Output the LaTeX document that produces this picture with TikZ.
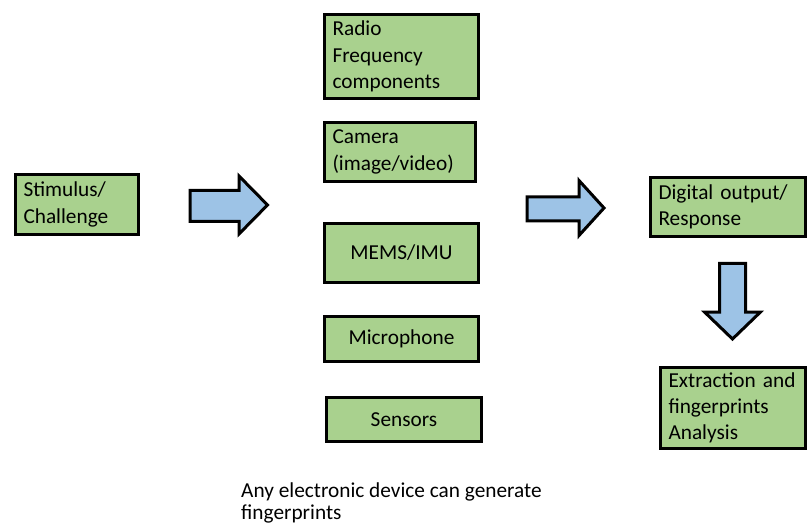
\documentclass[tikz,border=0pt]{standalone}
\usepackage{fontspec}
\setmainfont{Carlito}
\definecolor{boxgreen}{HTML}{A9D18E}
\definecolor{arrowblue}{HTML}{9DC3E6}
\begin{document}
\begin{tikzpicture}[x=1pt,y=-1pt,
  box/.style={draw=black, line width=3pt, fill=boxgreen, rectangle,
    inner xsep=8pt, inner ysep=2pt, font=\fontsize{21.3}{26.2}\selectfont},
  leftbox/.style={box, align=left},
  midbox/.style={box, align=center},
  blockarrow/.style={draw=black, line width=3pt, fill=arrowblue, line join=miter}]
\useasboundingbox (0,0) rectangle (807,524);

% stimulus on the left
\node[leftbox, minimum width=123pt, minimum height=60pt, text width=107pt] (stim) at (77,204.5) {Stimulus/\\Challenge};

% column of device components
\node[leftbox, minimum width=154pt, minimum height=84pt, text width=138pt] (radio) at (401.5,56.5) {Radio\\Frequency\\components};
\node[leftbox, minimum width=151pt, minimum height=59pt, text width=135pt] (camera) at (400,152) {Camera\\(image/video)};
\node[midbox, minimum width=154pt, minimum height=59pt, text width=138pt] (mems) at (401.5,253) {MEMS/IMU};
\node[midbox, minimum width=154pt, minimum height=45pt, text width=138pt] (mic) at (401.5,339) {Microphone};
\node[midbox, minimum width=155pt, minimum height=44pt, text width=139pt] (sensors) at (404,419.5) {Sensors};

% output and analysis on the right
\node[leftbox, minimum width=155pt, minimum height=59pt, text width=139pt] (digital) at (728,207) {Digital output/\\Response};
\node[leftbox, minimum width=145pt, minimum height=81pt, text width=129pt] (extract) at (733,408) {Extraction and\\fingerprints\\Analysis};

% block arrows
\draw[blockarrow] (190,190.5) -- (239,190.5) -- (239,176) -- (267.5,205) -- (239,234) -- (239,221.5) -- (190,221.5) -- cycle;
\draw[blockarrow] (527,197) -- (579,197) -- (579,180.5) -- (604,208) -- (579,235.5) -- (579,221) -- (527,221) -- cycle;
\draw[blockarrow] (719.5,263.5) -- (745.5,263.5) -- (745.5,312) -- (760.5,312) -- (732.5,339) -- (704.5,312) -- (719.5,312) -- cycle;

% caption below the column
\node[anchor=north west, align=left, inner sep=0pt, font=\fontsize{21.3}{22.5}\selectfont] (note) at (241,482.5) {Any electronic device can generate\\fingerprints};
\end{tikzpicture}
\end{document}
